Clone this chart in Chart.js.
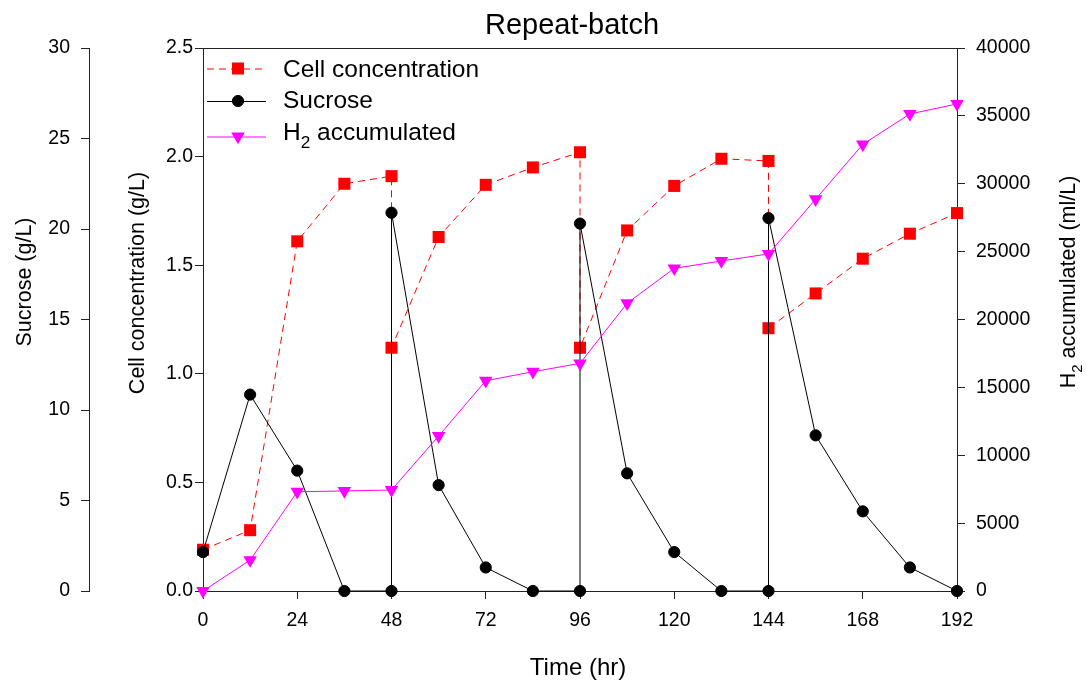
<!DOCTYPE html>
<html>
<head>
<meta charset="utf-8">
<title>Repeat-batch</title>
<script src="https://cdn.jsdelivr.net/npm/chart.js@4.4.0/dist/chart.umd.min.js"></script>
<style>
  html, body { margin: 0; padding: 0; background: #fff; }
  #wrap { width: 1087px; height: 682px; position: relative; }
</style>
</head>
<body>
<div id="wrap"><canvas id="canvas"></canvas></div>
<script>
// ---- data (time in hr) ----
// two points at 48/96/144 hr = end of one batch and start of the next
var cellTime = [0, 12, 24, 36, 48, 48, 60, 72, 84, 96, 96, 108, 120, 132, 144, 144, 156, 168, 180, 192];
var cellConc = [0.19, 0.28, 1.61, 1.875, 1.91, 1.12, 1.63, 1.87, 1.95, 2.02, 1.12, 1.66, 1.865, 1.99, 1.98, 1.21, 1.37, 1.53, 1.645, 1.74];

var sucroseTime = [0, 12, 24, 36, 48, 48, 60, 72, 84, 96, 96, 108, 120, 132, 144, 144, 156, 168, 180, 192];
var sucrose = [2.15, 10.85, 6.65, 0, 0, 20.9, 5.85, 1.3, 0, 0, 20.3, 6.5, 2.15, 0, 0, 20.6, 8.6, 4.4, 1.3, 0];

var h2Time = [0, 12, 24, 36, 48, 60, 72, 84, 96, 108, 120, 132, 144, 156, 168, 180, 192];
var h2Acc = [0, 2280, 7310, 7370, 7440, 11420, 15490, 16150, 16770, 21200, 23770, 24310, 24830, 28860, 32900, 35140, 35880];

var timeTicks = [0, 24, 48, 72, 96, 120, 144, 168, 192];

function pts(xs, ys) {
  return xs.map(function (x, i) { return { x: x, y: ys[i] }; });
}

var FONT = "'Liberation Sans', Arial, sans-serif";
Chart.defaults.font.family = FONT;
Chart.defaults.color = '#000';

// text with a subscript part, e.g. H2
function drawRich(ctx, parts, x, y, size, align) {
  var total = 0;
  parts.forEach(function (p) {
    ctx.font = (p[1] ? size * 0.7 : size) + 'px ' + FONT;
    p.w = ctx.measureText(p[0]).width;
    total += p.w;
  });
  var cx = align === 'center' ? x - total / 2 : x;
  ctx.textAlign = 'left';
  ctx.textBaseline = 'alphabetic';
  parts.forEach(function (p) {
    ctx.font = (p[1] ? size * 0.7 : size) + 'px ' + FONT;
    ctx.fillText(p[0], cx, p[1] ? y + size * 0.33 : y);
    cx += p.w;
  });
}

function rotated(ctx, parts, x, y, size) {
  ctx.save();
  ctx.translate(x, y);
  ctx.rotate(-Math.PI / 2);
  drawRich(ctx, parts, 0, 0, size, 'center');
  ctx.restore();
}

var legendRows = [
  { ds: 0, y: 68.5, base: 77.3, text: [['Cell concentration']] },
  { ds: 1, y: 101, base: 108.3, text: [['Sucrose']] },
  { ds: 2, y: 136.5, base: 140, text: [['H'], ['2', true], [' accumulated']] }
];

var decor = {
  id: 'decor',
  afterDraw: function (chart) {
    var ctx = chart.ctx, a = chart.chartArea;
    ctx.save();
    // top frame
    ctx.strokeStyle = '#222';
    ctx.lineWidth = 1;
    ctx.beginPath();
    ctx.moveTo(a.left, a.top + 0.5);
    ctx.lineTo(a.right, a.top + 0.5);
    ctx.stroke();

    ctx.fillStyle = '#000';
    drawRich(ctx, [['Repeat-batch']], 572, 33.5, 29, 'center');
    drawRich(ctx, [['Time (hr)']], 578, 675, 24, 'center');
    rotated(ctx, [['Sucrose (g/L)']], 30.5, 282, 21.5);
    rotated(ctx, [['Cell concentration (g/L)']], 144, 283, 21.5);
    rotated(ctx, [['H'], ['2', true], [' accumulated (ml/L)']], 1075, 282, 21.5);

    // legend
    legendRows.forEach(function (r) {
      var ds = chart.data.datasets[r.ds];
      ctx.strokeStyle = ds.borderColor;
      ctx.lineWidth = 1;
      ctx.setLineDash(ds.borderDash || []);
      ctx.beginPath();
      ctx.moveTo(207, r.y + 0.5);
      ctx.lineTo(266, r.y + 0.5);
      ctx.stroke();
      ctx.setLineDash([]);
      ctx.fillStyle = ds.pointBackgroundColor;
      ctx.strokeStyle = ds.pointBorderColor;
      ctx.lineWidth = ds.pointBorderWidth;
      Chart.helpers.drawPoint(ctx, {
        pointStyle: ds.pointStyle,
        rotation: ds.pointRotation || 0,
        radius: ds.pointRadius,
        borderWidth: ds.pointBorderWidth
      }, 238, r.y);
      ctx.fillStyle = '#000';
      drawRich(ctx, r.text, 283, r.base, 24.5, 'left');
    });
    ctx.restore();
  }
};

var tickFont = { size: 19.5, family: FONT };
var axisGrid = { drawOnChartArea: false, drawTicks: true, tickLength: 8, color: '#222' };
var axisBorder = { display: true, color: '#222', width: 1 };

var config = {
  type: 'line',
  data: {
    datasets: [
      {
        label: 'Cell concentration',
        data: pts(cellTime, cellConc),
        yAxisID: 'yCell',
        order: 3,
        borderColor: '#ff0000',
        borderWidth: 1,
        borderDash: [7, 5],
        pointStyle: 'rect',
        pointRadius: 8.5,
        pointBackgroundColor: '#ff0000',
        pointBorderColor: '#ff0000',
        pointBorderWidth: 0,
        clip: false
      },
      {
        label: 'Sucrose',
        data: pts(sucroseTime, sucrose),
        yAxisID: 'ySuc',
        order: 2,
        borderColor: '#000',
        borderWidth: 1,
        pointStyle: 'circle',
        pointRadius: 5.6,
        pointBackgroundColor: '#000',
        pointBorderColor: '#000',
        pointBorderWidth: 1,
        clip: false
      },
      {
        label: 'H2 accumulated',
        data: pts(h2Time, h2Acc),
        yAxisID: 'yH2',
        order: 1,
        borderColor: '#ff00ff',
        borderWidth: 1,
        pointStyle: 'triangle',
        pointRotation: 180,
        pointRadius: 7.8,
        pointBackgroundColor: '#ff00ff',
        pointBorderColor: '#ff00ff',
        pointBorderWidth: 0,
        clip: false
      }
    ]
  },
  options: {
    responsive: true,
    maintainAspectRatio: false,
    animation: false,
    layout: { padding: { top: 48, left: 0, right: 0, bottom: 0 } },
    plugins: { legend: { display: false }, title: { display: false }, tooltip: { enabled: false } },
    scales: {
      x: {
        type: 'linear',
        position: 'bottom',
        min: 0,
        max: 192,
        afterBuildTicks: function (s) { s.ticks = timeTicks.map(function (v) { return { value: v }; }); },
        ticks: { font: tickFont, color: '#000', padding: 10, maxRotation: 0,
          callback: function (v) { return String(v); } },
        grid: axisGrid,
        border: axisBorder,
        afterFit: function (s) { s.height = 91; }
      },
      ySuc: {
        position: 'left',
        weight: 2,
        min: 0,
        max: 30,
        ticks: { stepSize: 5, font: tickFont, color: '#000', padding: 11,
          callback: function (v) { return String(v); } },
        grid: axisGrid,
        border: axisBorder,
        afterFit: function (s) { s.width = 89; }
      },
      yCell: {
        position: 'left',
        weight: 1,
        min: 0,
        max: 2.5,
        ticks: { stepSize: 0.5, font: tickFont, color: '#000', padding: 2,
          callback: function (v) { return v.toFixed(1); } },
        grid: axisGrid,
        border: axisBorder,
        afterFit: function (s) { s.width = 114; }
      },
      yH2: {
        position: 'right',
        min: 0,
        max: 40000,
        ticks: { stepSize: 5000, font: tickFont, color: '#000', padding: 11,
          callback: function (v) { return String(v); } },
        grid: axisGrid,
        border: axisBorder,
        afterFit: function (s) { s.width = 130; }
      }
    }
  },
  plugins: [decor]
};

window.myChart = new Chart(document.getElementById('canvas').getContext('2d'), config);
</script>
</body>
</html>
